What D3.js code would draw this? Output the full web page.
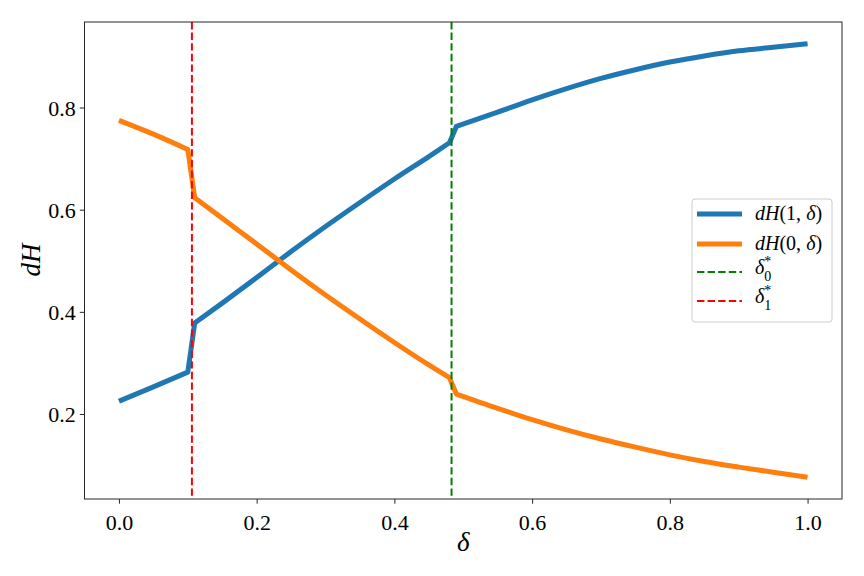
<!DOCTYPE html>
<html>
<head>
<meta charset="utf-8">
<script src="https://cdn.jsdelivr.net/npm/d3@7"></script>
<style>
  html, body { margin: 0; padding: 0; background: #fff; }
  svg { display: block; }
  svg text { font-family: "Liberation Serif", "Times New Roman", serif !important; fill: #000; }
</style>
</head>
<body>
<script>
// ---- data ----
const delta = [0, 0.05, 0.10, 0.11, 0.15, 0.20, 0.25, 0.30, 0.35, 0.40, 0.45, 0.48, 0.49,
               0.55, 0.60, 0.65, 0.70, 0.75, 0.80, 0.85, 0.90, 0.95, 1.0];
const dH1 = [0.225, 0.253, 0.282, 0.378, 0.417, 0.467, 0.518, 0.567, 0.614, 0.660, 0.704, 0.731, 0.763,
             0.791, 0.815, 0.837, 0.857, 0.874, 0.889, 0.901, 0.911, 0.918, 0.925];
const dH0 = [0.775, 0.748, 0.718, 0.6235, 0.583, 0.533, 0.482, 0.433, 0.386, 0.340, 0.296, 0.271, 0.239,
             0.211, 0.189, 0.169, 0.151, 0.135, 0.120, 0.107, 0.096, 0.086, 0.076];
const segmentBreaks = [0.10, 0.48];   // the curves jump right after these δ values
const delta0Star = 0.483;
const delta1Star = 0.106;
const xTicks = [0, 0.2, 0.4, 0.6, 0.8, 1.0];
const xTickLabels = ["0.0", "0.2", "0.4", "0.6", "0.8", "1.0"];
const yTicks = [0.2, 0.4, 0.6, 0.8];
const yTickLabels = ["0.2", "0.4", "0.6", "0.8"];

// ---- layout ----
const W = 864, H = 576;
const L = 84.5, R = 842, T = 22, B = 499;

const svg = d3.select("body").append("svg").attr("width", W).attr("height", H);

const x = d3.scaleLinear().domain([-0.05, 1.05]).range([L, R]);
const yMin = 0.076, yMax = 0.925, pad = (yMax - yMin) * 0.05;
const y = d3.scaleLinear().domain([yMin - pad, yMax + pad]).range([B, T]);

svg.append("defs").append("clipPath").attr("id", "clip")
  .append("rect").attr("x", L).attr("y", T).attr("width", R - L).attr("height", B - T);

const plot = svg.append("g").attr("clip-path", "url(#clip)");

const seg = d3.line().x(d => x(d[0])).y(d => y(d[1])).curve(d3.curveMonotoneX);
function pathFor(vals) {
  const pts = delta.map((d, i) => [d, vals[i]]);
  const parts = [];
  let cur = [];
  pts.forEach(p => {
    cur.push(p);
    if (segmentBreaks.includes(p[0])) { parts.push(cur); cur = []; }
  });
  parts.push(cur);
  return parts.map((p, i) => {
    const s = seg(p);
    return i === 0 ? s : "L" + s.slice(1);
  }).join("");
}

[[dH1, "#1f77b4"], [dH0, "#ff7f0e"]].forEach(([vals, c]) => {
  plot.append("path").attr("d", pathFor(vals)).attr("fill", "none").attr("stroke", c)
    .attr("stroke-width", 5).attr("stroke-linejoin", "round").attr("stroke-linecap", "butt");
});

const vlines = [[delta0Star, "#008000"], [delta1Star, "#ff0000"]];
vlines.forEach(([v, c]) => {
  plot.append("line").attr("x1", x(v)).attr("x2", x(v)).attr("y1", T).attr("y2", B)
    .attr("stroke", c).attr("stroke-width", 2).attr("stroke-dasharray", "7.4,3.2");
});

// ---- axes ----
const xAxis = d3.axisBottom(x).tickValues(xTicks).tickFormat((d, i) => xTickLabels[i])
  .tickSize(4.7).tickPadding(5);
const yAxis = d3.axisLeft(y).tickValues(yTicks).tickFormat((d, i) => yTickLabels[i])
  .tickSize(4.7).tickPadding(4);

const gx = svg.append("g").attr("transform", `translate(0,${B})`).call(xAxis);
const gy = svg.append("g").attr("transform", `translate(${L},0)`).call(yAxis);
[gx, gy].forEach(g => {
  g.attr("font-family", null).attr("font-size", null);
  g.select(".domain").remove();
  g.selectAll(".tick line").attr("stroke", "#262626").attr("stroke-width", 1);
  g.selectAll(".tick text").attr("font-size", 22).attr("fill", "#000");
});
gx.selectAll(".tick text").attr("dy", "0.95em");
gy.selectAll(".tick text").attr("dy", "0.34em");

svg.append("rect").attr("x", L).attr("y", T).attr("width", R - L).attr("height", B - T)
  .attr("fill", "none").attr("stroke", "#262626").attr("stroke-width", 1);

// axis labels
svg.append("text").attr("x", (L + R) / 2).attr("y", 551).attr("text-anchor", "middle")
  .attr("font-size", 27).attr("font-style", "italic").text("δ");
svg.append("text").attr("transform", "translate(40,260) rotate(-90)").attr("text-anchor", "middle")
  .attr("font-size", 27).attr("font-style", "italic").text("dH");

// ---- legend ----
const lg = svg.append("g");
lg.append("rect").attr("x", 692).attr("y", 199).attr("width", 140).attr("height", 123)
  .attr("rx", 3).attr("fill", "#fff").attr("fill-opacity", 0.8)
  .attr("stroke", "#cccccc").attr("stroke-width", 1);

const entries = [
  {color: "#1f77b4", width: 5, dash: null, yc: 214, kind: "dH", arg: "1"},
  {color: "#ff7f0e", width: 5, dash: null, yc: 244, kind: "dH", arg: "0"},
  {color: "#008000", width: 2, dash: "7.4,3.2", yc: 272, kind: "ds", arg: "0"},
  {color: "#ff0000", width: 2, dash: "7.4,3.2", yc: 301, kind: "ds", arg: "1"}
];
entries.forEach(e => {
  const ln = lg.append("line").attr("x1", 697).attr("x2", 742).attr("y1", e.yc).attr("y2", e.yc)
    .attr("stroke", e.color).attr("stroke-width", e.width);
  if (e.dash) ln.attr("stroke-dasharray", e.dash);
  const t = lg.append("text").attr("x", 755).attr("y", e.yc + 6).attr("font-size", 20);
  if (e.kind === "dH") {
    t.append("tspan").attr("font-style", "italic").text("dH");
    t.append("tspan").text("(" + e.arg + ", ");
    t.append("tspan").attr("font-style", "italic").text("δ");
    t.append("tspan").text(")");
  } else {
    t.attr("y", e.yc + 2);
    t.append("tspan").attr("font-style", "italic").text("δ");
    t.append("tspan").attr("font-size", 14).attr("dy", -8).text("*");
    t.append("tspan").attr("font-size", 14).attr("dx", -7).attr("dy", 15).text(e.arg);
  }
});
</script>
</body>
</html>
